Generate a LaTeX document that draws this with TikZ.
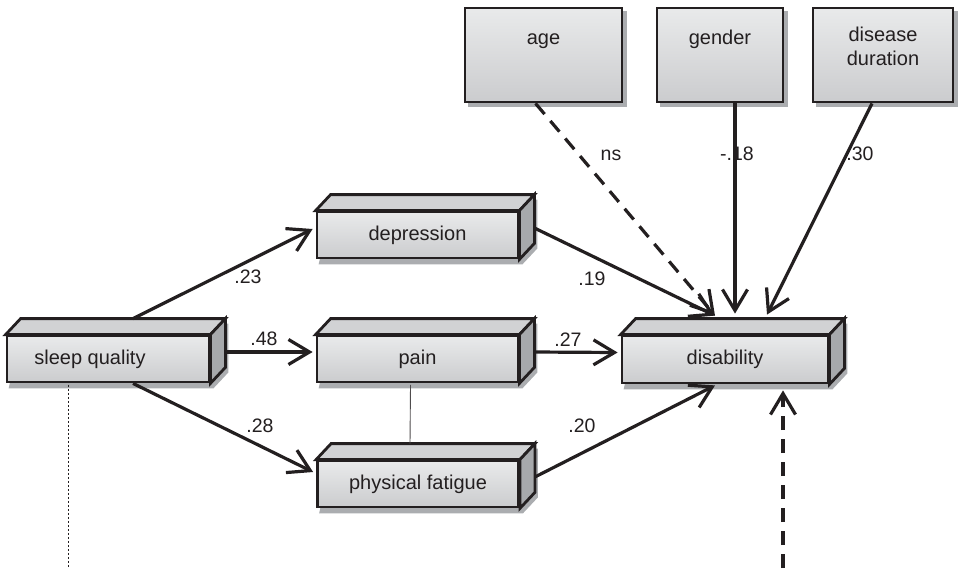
\documentclass[tikz,border=0pt]{standalone}
\usepackage{fontspec}
\setmainfont{Liberation Sans}
\usetikzlibrary{arrows.meta,calc}
\pgfdeclarelayer{bg}
\pgfsetlayers{bg,main}
\definecolor{ink}{HTML}{231F20}
\definecolor{facetop}{HTML}{D1D2D4}
\definecolor{faceside}{HTML}{A7A9AC}
\definecolor{shadowc}{HTML}{ABADB0}
\definecolor{frontA}{HTML}{E9EAEB}
\definecolor{frontB}{HTML}{CBCCCE}
\tikzset{
  front/.style={draw=ink, line width=2.8pt, top color=frontA, bottom color=frontB,
    inner sep=0pt, font=\fontsize{20}{24}\selectfont, text=ink, align=center},
  topbox/.style={front, minimum height=94pt, text height=14pt},
  face/.style={draw=ink, line width=2.8pt, line join=miter},
  conn/.style={draw=ink, line width=3.2pt, -{Straight Barb[length=21pt,width=25pt]}},
  dashconn/.style={conn, dash pattern=on 14pt off 9pt},
  lbl/.style={font=\fontsize{19.5}{22}\selectfont, text=ink, anchor=base, inner sep=0pt},
}
\newcommand\cubefaces[1]{%
  \begin{pgfonlayer}{bg}
    \fill[shadowc] ($(#1.south west)+(3,5)$) -- ($(#1.south east)+(3,5)$)
      -- ($(#1.south east)+(18,-11)$) -- ($(#1.north east)+(18,-11)$)
      -- ($(#1.north west)+(18,-11)$) -- cycle;
  \end{pgfonlayer}
  \filldraw[face, fill=facetop] (#1.north west) -- ++(15,-16)
    -- ($(#1.north east)+(15,-16)$) -- (#1.north east) -- cycle;
  \filldraw[face, fill=faceside] (#1.north east) -- ++(15,-16)
    -- ($(#1.south east)+(15,-16)$) -- (#1.south east) -- cycle;
}
\newcommand\flatshadow[1]{%
  \begin{pgfonlayer}{bg}
    \fill[shadowc] ($(#1.south west)+(4,4)$) rectangle ($(#1.north east)+(4,4)$);
  \end{pgfonlayer}}
\begin{document}
\begin{tikzpicture}[x=1pt,y=-1pt]
\useasboundingbox (0,0) rectangle (960,568);

% 3D boxes
\node[front, minimum width=202pt, minimum height=46pt] (sleep) at (108,359) {sleep quality\hspace*{36pt}};
\cubefaces{sleep}
\node[front, minimum width=201pt, minimum height=46pt] (dep) at (417.5,235) {depression};
\cubefaces{dep}
\node[front, minimum width=201pt, minimum height=46pt] (pain) at (417.5,359) {pain};
\cubefaces{pain}
\node[front, minimum width=201pt, minimum height=46pt] (fat) at (418,484) {physical fatigue};
\cubefaces{fat}
\node[front, minimum width=206pt, minimum height=47pt] (dis) at (725,359.5) {disability};
\cubefaces{dis}

% top boxes
\node[topbox, minimum width=157pt, text depth=36pt] (age) at (543.5,55) {age};
\flatshadow{age}
\node[topbox, minimum width=126pt, text depth=36pt] (gen) at (720,55) {gender};
\flatshadow{gen}
\node[topbox, minimum width=140pt, text height=38pt, text depth=17pt] (dur) at (883,55) {disease\\duration};
\flatshadow{dur}

% free ends
\coordinate (bot) at (783,568);
\coordinate (dotend) at (68,568);

% labels
\node[lbl] (l23) at (248,283) {.23};
\node[lbl] (l48) at (264,345) {.48};
\node[lbl] (l28) at (260,432) {.28};
\node[lbl] (l19) at (592,285) {.19};
\node[lbl] (l27) at (568,346) {.27};
\node[lbl] (l20) at (582,432) {.20};
\node[lbl] (lns) at (611,160) {ns};
\node[lbl] (l18) at (737,160) {-.18};
\node[lbl] (l30) at (860,160) {.30};

% connectors
\draw[conn] ($(sleep.north)+(25,-16)$) -- ($(dep.west)+(-3,-6)$);
\draw[conn] ($(sleep.east)+(15,-7)$) -- ($(pain.west)+(-3,-7)$);
\draw[conn] ($(sleep.south)+(25,0)$) -- ($(fat.west)+(-3,-12)$);
\draw[conn] ($(dep.east)+(15,-7)$) -- ($(dis.north)+(-10,-19)$);
\draw[conn] ($(pain.east)+(15,-7)$) -- ($(dis.west)+(-3,-7)$);
\draw[conn] ($(fat.east)+(15,-7)$) -- ($(dis.south)+(-10,1)$);
\draw[dashconn] ($(age.south)+(-8,0)$) -- ($(dis.north)+(-10,-19)$);
\draw[conn] ($(gen.south)+(15,0)$) -- ($(dis.north)+(10,-21)$);
\draw[conn] ($(dur.south)+(-11,0)$) -- ($(dis.north)+(42,-20)$);
\draw[dashconn] (bot) -- ($(dis.south)+(58,6)$);
\draw[draw=ink, line width=0.8pt, dash pattern=on 2pt off 2pt] ($(sleep.south)+(-40,1.5)$) -- (dotend);
\draw[draw=ink!80, line width=0.9pt] ($(pain.south)+(-7,1.5)$) -- ($(fat.north)+(-8,-16)$);
\end{tikzpicture}
\end{document}
